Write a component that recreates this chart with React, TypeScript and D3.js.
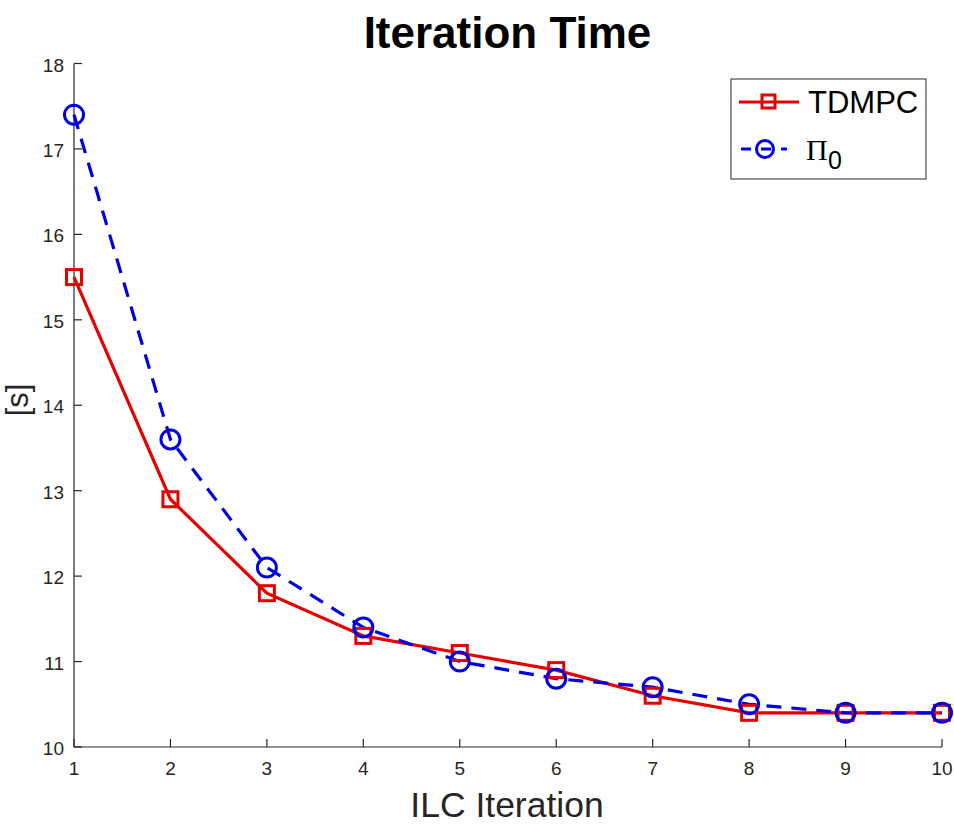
import React from "react";
import * as d3 from "d3";

const iterations = [1, 2, 3, 4, 5, 6, 7, 8, 9, 10];
const tdmpc = [15.5, 12.9, 11.8, 11.3, 11.1, 10.9, 10.6, 10.4, 10.4, 10.4];
const pi0 = [17.4, 13.6, 12.1, 11.4, 11.0, 10.8, 10.7, 10.5, 10.4, 10.4];
const yTicks = [10, 11, 12, 13, 14, 15, 16, 17, 18];
const xTicks = [1, 2, 3, 4, 5, 6, 7, 8, 9, 10];

const W = 954;
const H = 839;
const left = 74;
const right = 942;
const top = 63.5;
const bottom = 747;
const font = "'Liberation Sans', Arial, Helvetica, sans-serif";
const RED = "#e60000";
const BLUE = "#0000e0";

export default function App() {
  const x = d3.scaleLinear().domain([1, 10]).range([left, right]);
  const y = d3.scaleLinear().domain([10, 18]).range([bottom, top]);
  const line = d3
    .line<number>()
    .x((_, i) => x(iterations[i]))
    .y((d) => y(d));

  return (
    <svg
      width={W}
      height={H}
      style={{ position: "absolute", left: 0, top: 0, background: "#fff", display: "block" }}
      fontFamily={font}
    >
      <rect width={W} height={H} fill="#fff" />
      <text x={507.5} y={48} textAnchor="middle" fontSize={44} fontWeight="bold" fill="#000">
        Iteration Time
      </text>

      {/* axes */}
      <line x1={left} y1={bottom} x2={right} y2={bottom} stroke="#262626" strokeWidth={1.2} />
      <line x1={left} y1={bottom} x2={left} y2={top} stroke="#262626" strokeWidth={1.2} />
      {xTicks.map((t) => (
        <g key={"x" + t}>
          <line x1={x(t)} x2={x(t)} y1={bottom} y2={bottom - 8} stroke="#262626" strokeWidth={1.2} />
          <text x={x(t)} y={bottom + 28} textAnchor="middle" fontSize={19} fill="#262626">
            {t}
          </text>
        </g>
      ))}
      {yTicks.map((t) => (
        <g key={"y" + t}>
          <line x1={left} x2={left + 8} y1={y(t)} y2={y(t)} stroke="#262626" strokeWidth={1.2} />
          <text x={left - 10} y={y(t) + 8} textAnchor="end" fontSize={19} fill="#262626">
            {t}
          </text>
        </g>
      ))}

      <text x={507} y={817} textAnchor="middle" fontSize={35.5} fill="#262626">
        ILC Iteration
      </text>
      <text
        transform={`translate(28,400) rotate(-90)`}
        textAnchor="middle"
        fontSize={31}
        fill="#262626"
      >
        [s]
      </text>

      {/* series */}
      <path d={line(tdmpc) || ""} fill="none" stroke={RED} strokeWidth={3.2} />
      <path d={line(pi0) || ""} fill="none" stroke={BLUE} strokeWidth={3.2} strokeDasharray="15 10" />
      {tdmpc.map((v, i) => (
        <rect
          key={"s" + i}
          x={x(iterations[i]) - 7.5}
          y={y(v) - 7.5}
          width={15}
          height={15}
          fill="none"
          stroke={RED}
          strokeWidth={3}
        />
      ))}
      {pi0.map((v, i) => (
        <circle key={"c" + i} cx={x(iterations[i])} cy={y(v)} r={9.5} fill="none" stroke={BLUE} strokeWidth={3} />
      ))}

      {/* legend */}
      <rect x={731} y={79} width={195} height={100} fill="#fff" stroke="#262626" strokeWidth={1} />
      <line x1={739} x2={799} y1={102} y2={102} stroke={RED} strokeWidth={3.2} />
      <rect x={762} y={95} width={13} height={13} fill="none" stroke={RED} strokeWidth={3} />
      <text x={808} y={113} fontSize={31} fill="#000">
        TDMPC
      </text>
      <line x1={739} x2={787} y1={149} y2={149} stroke={BLUE} strokeWidth={3.2} strokeDasharray="10 10" strokeDashoffset={-2} />
      <circle cx={765} cy={149} r={8.5} fill="none" stroke={BLUE} strokeWidth={3} />
      <text x={806} y={160} fontSize={30} fill="#000" fontFamily="'Liberation Serif', 'Times New Roman', serif">
        Π
      </text>
      <text x={828} y={169} fontSize={25} fill="#000" fontFamily={font}>
        0
      </text>
    </svg>
  );
}
